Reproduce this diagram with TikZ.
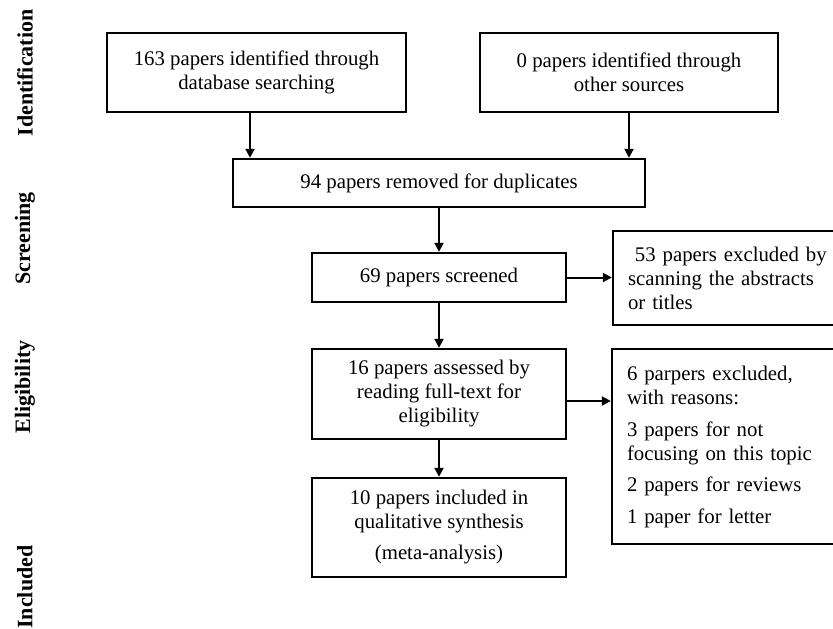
\documentclass[tikz,border=0pt]{standalone}
\usepackage{fontspec}
\setmainfont{Liberation Serif}
\usepackage{tikz}
\usetikzlibrary{positioning,arrows.meta}

\begin{document}
\begin{tikzpicture}[x=1pt,y=-1pt,
                    box/.style={draw, line width=2.4pt, rectangle, inner sep=0pt,
                                font=\fontsize{20.8}{24}\selectfont, align=center},
                    sidebox/.style={box, align=left, text width=210pt, inner xsep=15pt},
                    phase/.style={rotate=90, font=\fontsize{22}{24}\selectfont\bfseries},
                    flow/.style={line width=2pt, -{Triangle[length=9pt,width=9pt]}}]
    \useasboundingbox (0,0) rectangle (833,629);
    \clip (0,0) rectangle (833,629);
    % phases
    \node[phase] (ident) at (25,73) {Identification};
    \node[phase] (screen) at (25,238.5) {Screening};
    \node[phase] (elig) at (25,387) {Eligibility};
    \node[phase] (incl) at (25,587) {Included};
    % boxes
    \node[box, minimum width=299pt, minimum height=79pt] (db) at (256.5,72.5)
        {163 papers identified through\\database searching};
    \node[box, minimum width=298pt, minimum height=79pt] (other) at (629,72.5)
        {0 papers identified through\\other sources};
    \node[box, minimum width=412pt, minimum height=48pt] (dup) at (439,183)
        {94 papers removed for duplicates};
    \node[box, minimum width=254pt, minimum height=49pt] (scr) at (439,277.5)
        {69 papers screened};
    \node[sidebox, minimum height=94pt] (abs) at (733,278)
        {\ 53 papers excluded by\\scanning the abstracts\\or titles};
    \node[box, minimum width=254pt, minimum height=90pt] (full) at (439,394)
        {16 papers assessed by\\reading full-text for\\eligibility};
    \node[box, minimum width=254pt, minimum height=99pt] (incbox) at (439,527.5)
        {10 papers included in\\qualitative synthesis\\[7pt](meta-analysis)};
    \node[sidebox, minimum height=195pt] (reasons) at (732,446.5)
        {6 parpers excluded,\\with reasons:\\[8pt]3 papers for not\\focusing on this topic\\[7pt]2 papers for reviews\\[8pt]1 paper for letter};
    % arrows
    \draw[flow] ([xshift=-6.5pt]db.south) -- ([xshift=-6.5pt]db.south |- dup.north);
    \draw[flow] (other.south) -- (other.south |- dup.north);
    \draw[flow] (dup) -- (scr);
    \draw[flow] (scr) -- (scr -| abs.west);
    \draw[flow] (scr) -- (full);
    \draw[flow] ([yshift=-7pt]full.east) -- ([yshift=-7pt]full.east -| reasons.west);
    \draw[flow] (full) -- (incbox);
\end{tikzpicture}
\end{document}
